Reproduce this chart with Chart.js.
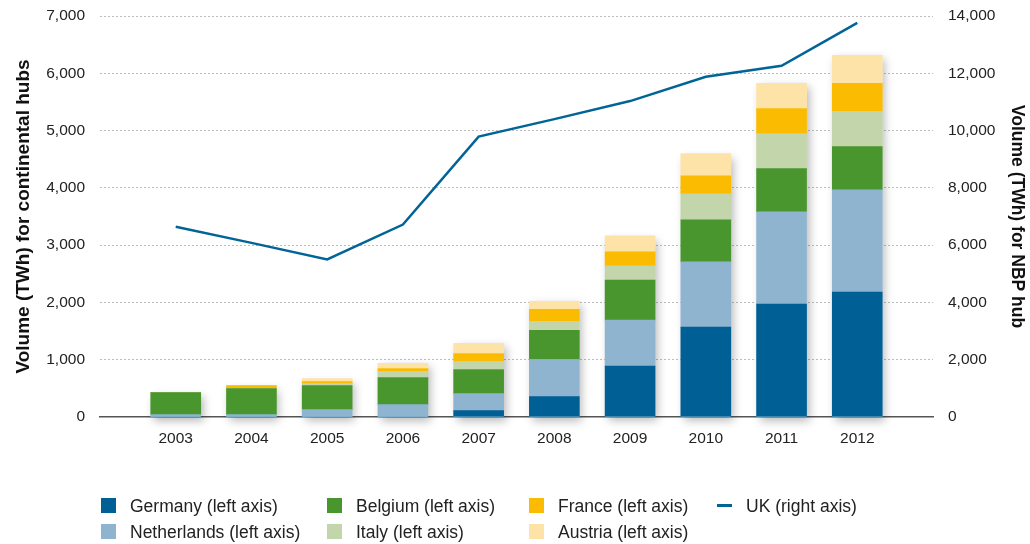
<!DOCTYPE html>
<html>
<head>
<meta charset="utf-8">
<script src="https://cdn.jsdelivr.net/npm/chart.js@4"></script>
<style>
  html, body { margin: 0; padding: 0; background: #fff; }
  #wrap { position: relative; width: 1030px; height: 544px; overflow: hidden; font-family: 'Liberation Sans', Arial, sans-serif; }
  canvas { position: absolute; left: 0; top: 0; }
  .lg { position: absolute; font-size: 17.5px; color: #222; line-height: 20px; white-space: nowrap; }
  .bx { position: absolute; width: 15px; height: 15px; }
  .ln { position: absolute; width: 15px; height: 3px; }
</style>
</head>
<body>
<div id="wrap">
  <canvas id="c" width="1030" height="544"></canvas>
  <div id="legend"></div>
</div>
<script>
const years = [2003, 2004, 2005, 2006, 2007, 2008, 2009, 2010, 2011, 2012];
const germany     = [0, 0, 0, 0, 111, 356, 887, 1569, 1972, 2182];
const netherlands = [41, 41, 128, 216, 298, 648, 805, 1138, 1610, 1785];
const belgium     = [385, 455, 420, 473, 420, 508, 700, 735, 753, 753];
const italy       = [0, 0, 35, 105, 140, 158, 245, 455, 613, 613];
const france      = [0, 52, 35, 53, 140, 210, 245, 315, 438, 490];
const austria     = [0, 0, 52, 88, 175, 140, 280, 385, 438, 490];
const uk          = [6640, 6080, 5500, 6720, 9790, 10400, 11030, 11880, 12260, 13760];

const leftTicks = [0, 1000, 2000, 3000, 4000, 5000, 6000, 7000];
const rightTicks = [0, 2000, 4000, 6000, 8000, 10000, 12000, 14000];

const barSeries = [
  { label: 'Germany (left axis)', data: germany, color: '#005F94' },
  { label: 'Netherlands (left axis)', data: netherlands, color: '#8FB4D0' },
  { label: 'Belgium (left axis)', data: belgium, color: '#4A962E' },
  { label: 'Italy (left axis)', data: italy, color: '#C3D5AA' },
  { label: 'France (left axis)', data: france, color: '#FABB00' },
  { label: 'Austria (left axis)', data: austria, color: '#FDE3A7' }
];
const lineSeries = { label: 'UK (right axis)', data: uk, color: '#006496' };

const FONT = "'Liberation Sans', Arial, sans-serif";

const toXY = arr => arr.map((v, i) => ({ x: years[i], y: v }));

const datasets = barSeries.map(s => ({
  type: 'bar',
  label: s.label,
  data: toXY(s.data),
  backgroundColor: s.color,
  borderWidth: 0,
  barThickness: 50,
  stack: 'hubs',
  yAxisID: 'y',
  order: 1
}));
datasets.push({
  type: 'line',
  label: lineSeries.label,
  data: toXY(lineSeries.data),
  borderColor: lineSeries.color,
  borderWidth: 2.5,
  pointRadius: 0,
  tension: 0,
  fill: false,
  yAxisID: 'y2',
  order: 0
});

const shadowPlugin = {
  id: 'stackShadow',
  beforeDatasetsDraw(chart) {
    const ctx = chart.ctx;
    const yScale = chart.scales.y;
    const base = yScale.getPixelForValue(0);
    const n = years.length;
    ctx.save();
    for (let i = 0; i < n; i++) {
      let top = base, x = null, w = 50;
      for (let d = 0; d < barSeries.length; d++) {
        const el = chart.getDatasetMeta(d).data[i];
        if (!el) continue;
        x = el.x; w = el.width;
        if (el.y < top) top = el.y;
      }
      if (x === null || top >= base) continue;
      ctx.shadowColor = 'rgba(0,0,0,0.28)';
      ctx.shadowBlur = 9;
      ctx.shadowOffsetX = 3;
      ctx.shadowOffsetY = 4;
      ctx.fillStyle = '#ffffff';
      ctx.fillRect(x - w / 2, top, w, base - top);
    }
    ctx.restore();
  }
};

const noVPad = s => { s.paddingTop = 0; s.paddingBottom = 0; };

new Chart(document.getElementById('c'), {
  data: { datasets },
  plugins: [shadowPlugin],
  options: {
    responsive: false,
    animation: false,
    layout: { padding: { top: 16, left: 0, right: 0, bottom: 0 } },
    plugins: { legend: { display: false }, tooltip: { enabled: false } },
    scales: {
      x: {
        type: 'linear',
        offset: false,
        min: 2002,
        max: 2013,
        afterFit: s => { s.height = 127; s.paddingLeft = 0; s.paddingRight = 0; },
        afterBuildTicks: s => { s.ticks = [2002].concat(years).concat([2013]).map(v => ({ value: v })); },
        grid: { display: false, drawTicks: false, offset: false },
        border: { display: true, color: '#555', width: 1.5 },
        ticks: {
          padding: 12,
          color: '#222',
          font: { family: FONT, size: 15.5 },
          callback: v => (years.includes(v) ? String(v) : '')
        }
      },
      y: {
        type: 'linear',
        position: 'left',
        stacked: true,
        min: 0,
        max: 7000,
        afterFit: s => { s.width = 100; noVPad(s); },
        afterBuildTicks: s => { s.ticks = leftTicks.map(v => ({ value: v })); },
        grid: {
          drawTicks: false,
          color: ctx => (ctx.tick && ctx.tick.value === 0 ? 'rgba(0,0,0,0)' : '#bdbdbd'),
          lineWidth: 1
        },
        border: { display: false, dash: [2, 2] },
        ticks: {
          padding: 15,
          color: '#222',
          font: { family: FONT, size: 15.5 },
          callback: v => v.toLocaleString('en-US')
        },
        title: {
          display: true,
          text: 'Volume (TWh) for continental hubs',
          color: '#111',
          font: { family: FONT, size: 19, weight: 'bold' },
          padding: { top: 12, bottom: 0 }
        }
      },
      y2: {
        type: 'linear',
        position: 'right',
        min: 0,
        max: 14000,
        afterFit: s => { s.width = 97; noVPad(s); },
        afterBuildTicks: s => { s.ticks = rightTicks.map(v => ({ value: v })); },
        grid: { display: false, drawTicks: false },
        border: { display: false },
        ticks: {
          padding: 15,
          color: '#222',
          font: { family: FONT, size: 15.5 },
          callback: v => v.toLocaleString('en-US')
        },
        title: {
          display: true,
          text: 'Volume (TWh) for NBP hub',
          color: '#111',
          font: { family: FONT, size: 17.5, weight: 'bold' },
          padding: { top: 3, bottom: 0 }
        }
      }
    }
  }
});

// HTML legend laid out in columns as in the reference
const legendLayout = [
  { s: barSeries[0], col: 0, row: 0 },
  { s: barSeries[1], col: 0, row: 1 },
  { s: barSeries[2], col: 1, row: 0 },
  { s: barSeries[3], col: 1, row: 1 },
  { s: barSeries[4], col: 2, row: 0 },
  { s: barSeries[5], col: 2, row: 1 },
  { s: lineSeries, col: 3, row: 0, line: true }
];
const colX = [101, 327, 529, 717];
const rowY = [505.5, 531.5];
const lg = document.getElementById('legend');
legendLayout.forEach(it => {
  const x = colX[it.col], y = rowY[it.row];
  const mark = document.createElement('div');
  if (it.line) {
    mark.className = 'ln';
    mark.style.left = x + 'px';
    mark.style.top = (y - 1.5) + 'px';
  } else {
    mark.className = 'bx';
    mark.style.left = x + 'px';
    mark.style.top = (y - 7.5) + 'px';
  }
  mark.style.background = it.s.color;
  lg.appendChild(mark);
  const t = document.createElement('div');
  t.className = 'lg';
  t.textContent = it.s.label;
  t.style.left = (x + 29) + 'px';
  t.style.top = (y - 10) + 'px';
  lg.appendChild(t);
});
</script>
</body>
</html>
